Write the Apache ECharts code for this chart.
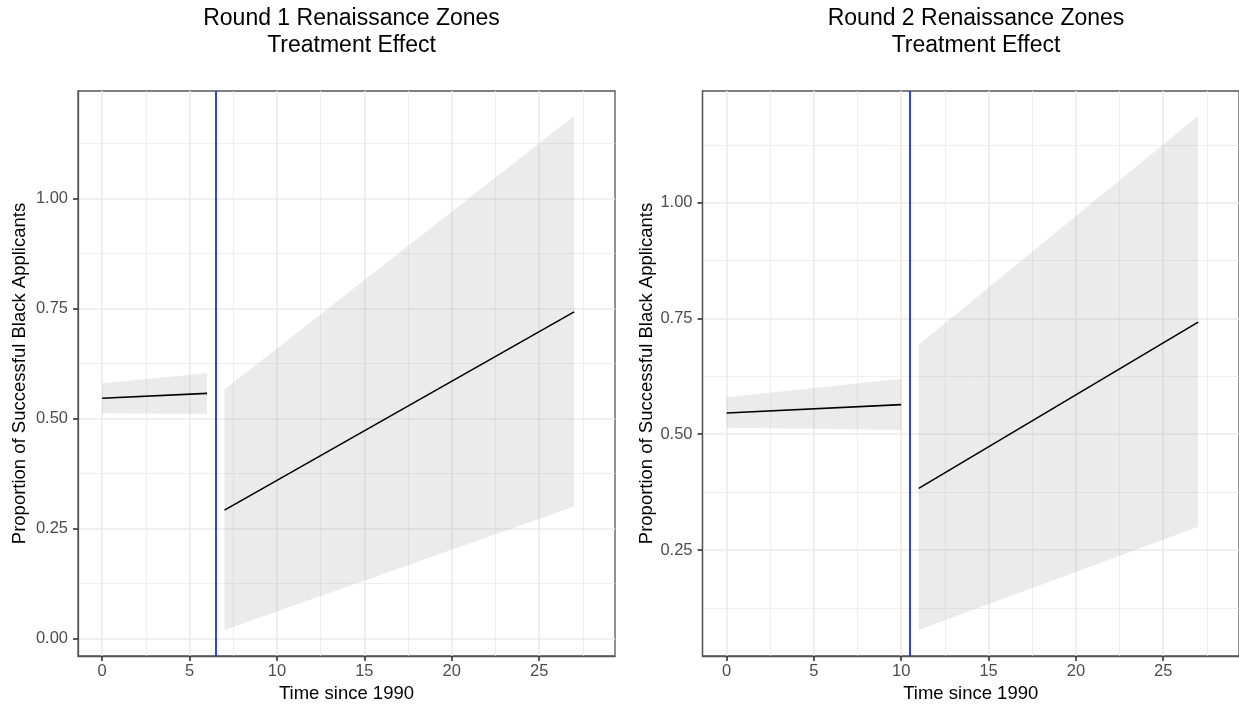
<!DOCTYPE html>
<html>
<head>
<meta charset="utf-8">
<script src="https://cdn.jsdelivr.net/npm/echarts@6/dist/echarts.min.js"></script>
<style>
  html, body { margin: 0; padding: 0; background: #fff; }
  #main { width: 1239px; height: 711px; }
</style>
</head>
<body>
<div id="main"></div>
<script>
// tick labels
const xTicks = [0, 5, 10, 15, 20, 25];
const xMinor = [2.5, 7.5, 12.5, 17.5, 22.5, 27.5];
const yTicksR1 = [0, 0.25, 0.5, 0.75, 1];
const yTicksR2 = [0.25, 0.5, 0.75, 1];
const yMinor = [0.125, 0.375, 0.625, 0.875, 1.125];

// Round 1: fitted line + 95% band, before / after
const r1PreX = [0, 6];
const r1PreFit = [0.546, 0.557];
const r1PreLo = [0.512, 0.510];
const r1PreHi = [0.580, 0.603];
const r1PostX = [7, 27];
const r1PostFit = [0.292, 0.742];
const r1PostLo = [0.020, 0.300];
const r1PostHi = [0.566, 1.187];
const r1Cut = 6.5;

// Round 2
const r2PreX = [0, 10];
const r2PreFit = [0.546, 0.564];
const r2PreLo = [0.514, 0.509];
const r2PreHi = [0.580, 0.620];
const r2PostX = [11, 27];
const r2PostFit = [0.383, 0.742];
const r2PostLo = [0.077, 0.300];
const r2PostHi = [0.693, 1.187];
const r2Cut = 10.5;

const FONT = '"Liberation Sans", Arial, Helvetica, sans-serif';
const BAND = 'rgba(153,153,153,0.2)';
const GRIDC = '#ebebeb';
const FRAME = '#555';

const chart = echarts.init(document.getElementById('main'), null, { renderer: 'canvas' });

function pairs(xs, ys) {
  return xs.map((x, i) => [x, ys[i]]);
}

function xAxes(g, range) {
  return [{
    type: 'value', gridIndex: g, min: range[0], max: range[1],
    axisLine: { show: true, onZero: false, lineStyle: { color: FRAME, width: 1.3 } },
    axisTick: { show: true, inside: false, length: 5, customValues: xTicks, lineStyle: { color: '#333', width: 1.6 } },
    axisLabel: { customValues: xTicks, color: '#4d4d4d', fontSize: 16.5, margin: 7, fontFamily: FONT },
    splitLine: { show: true, lineStyle: { color: GRIDC, width: 1.6 } },
    name: 'Time since 1990', nameLocation: 'middle', nameGap: 27,
    nameTextStyle: { color: '#000', fontSize: 18.5, fontFamily: FONT }
  }, {
    type: 'value', gridIndex: g, min: range[0], max: range[1], position: 'top',
    axisLine: { show: false, onZero: false },
    axisTick: { show: false, customValues: xMinor },
    axisLabel: { show: false },
    splitLine: { show: true, lineStyle: { color: GRIDC, width: 0.8 } }
  }];
}

function yAxes(g, range, ticks, gap) {
  return [{
    type: 'value', gridIndex: g, min: range[0], max: range[1],
    axisLine: { show: true, onZero: false, lineStyle: { color: FRAME, width: 1.3 } },
    axisTick: { show: true, inside: false, length: 5, customValues: ticks, lineStyle: { color: '#333', width: 1.6 } },
    axisLabel: { customValues: ticks, color: '#4d4d4d', fontSize: 16.5, margin: 10, fontFamily: FONT,
      formatter: v => v.toFixed(2) },
    splitLine: { show: true, lineStyle: { color: GRIDC, width: 1.6 } },
    name: 'Proportion of Successful Black Applicants', nameLocation: 'middle', nameGap: gap,
    nameTextStyle: { color: '#000', fontSize: 18.5, fontFamily: FONT }
  }, {
    type: 'value', gridIndex: g, min: range[0], max: range[1], position: 'right',
    axisLine: { show: false, onZero: false },
    axisTick: { show: false, customValues: yMinor },
    axisLabel: { show: false },
    splitLine: { show: true, lineStyle: { color: GRIDC, width: 0.8 } }
  }];
}

// confidence ribbon as a polygon through the axes' own coord()
function band(ax, xs, lo, hi) {
  return {
    type: 'custom', xAxisIndex: ax, yAxisIndex: ax, silent: true, z: 1,
    data: xs.map((x, i) => [x, lo[i], hi[i]]),
    encode: { x: 0, y: [1, 2] },
    renderItem: function (params, api) {
      if (params.dataIndex !== 0) return;
      const top = [], bottom = [];
      for (let i = 0; i < xs.length; i++) {
        top.push(api.coord([xs[i], hi[i]]));
        bottom.unshift(api.coord([xs[i], lo[i]]));
      }
      return {
        type: 'polygon',
        shape: { points: top.concat(bottom) },
        style: { fill: BAND, stroke: null }
      };
    }
  };
}

function fit(ax, xs, ys, cut) {
  const s = {
    type: 'line', xAxisIndex: ax, yAxisIndex: ax, data: pairs(xs, ys),
    showSymbol: false, symbol: 'none', silent: true,
    lineStyle: { color: '#000', width: 1.6 }, z: 3
  };
  if (cut !== undefined) {
    s.markLine = {
      symbol: ['none', 'none'], silent: true, animation: false,
      label: { show: false },
      lineStyle: { color: '#0f2fff', width: 1.8, type: 'solid' },
      data: [{ xAxis: cut }]
    };
  }
  return s;
}

const X_RANGE = [-1.38, 29.34];
const Y1_RANGE = [-0.0393, 1.2436];
const Y2_RANGE = [0.0211, 1.2412];

const titleStyle = { fontSize: 23, fontWeight: 'normal', color: '#000', lineHeight: 27, fontFamily: FONT };

const option = {
  animation: false,
  textStyle: { fontFamily: FONT },
  title: [{
    text: 'Round 1 Renaissance Zones\nTreatment Effect',
    left: 346.5, top: 0, textAlign: 'center', textStyle: titleStyle
  }, {
    text: 'Round 2 Renaissance Zones\nTreatment Effect',
    left: 971, top: 0, textAlign: 'center', textStyle: titleStyle
  }],
  grid: [
    { left: 78, top: 91, width: 537, height: 565, show: true, borderColor: FRAME, borderWidth: 1.3, backgroundColor: 'transparent' },
    { left: 702.5, top: 91, width: 537.5, height: 565, show: true, borderColor: FRAME, borderWidth: 1.3, backgroundColor: 'transparent' }
  ],
  xAxis: [].concat(xAxes(0, X_RANGE), xAxes(1, X_RANGE)),
  yAxis: [].concat(yAxes(0, Y1_RANGE, yTicksR1, 49), yAxes(1, Y2_RANGE, yTicksR2, 45)),
  series: [
    band(0, r1PreX, r1PreLo, r1PreHi),
    band(0, r1PostX, r1PostLo, r1PostHi),
    fit(0, r1PreX, r1PreFit, r1Cut),
    fit(0, r1PostX, r1PostFit),
    band(2, r2PreX, r2PreLo, r2PreHi),
    band(2, r2PostX, r2PostLo, r2PostHi),
    fit(2, r2PreX, r2PreFit, r2Cut),
    fit(2, r2PostX, r2PostFit)
  ]
};

chart.setOption(option);
</script>
</body>
</html>
